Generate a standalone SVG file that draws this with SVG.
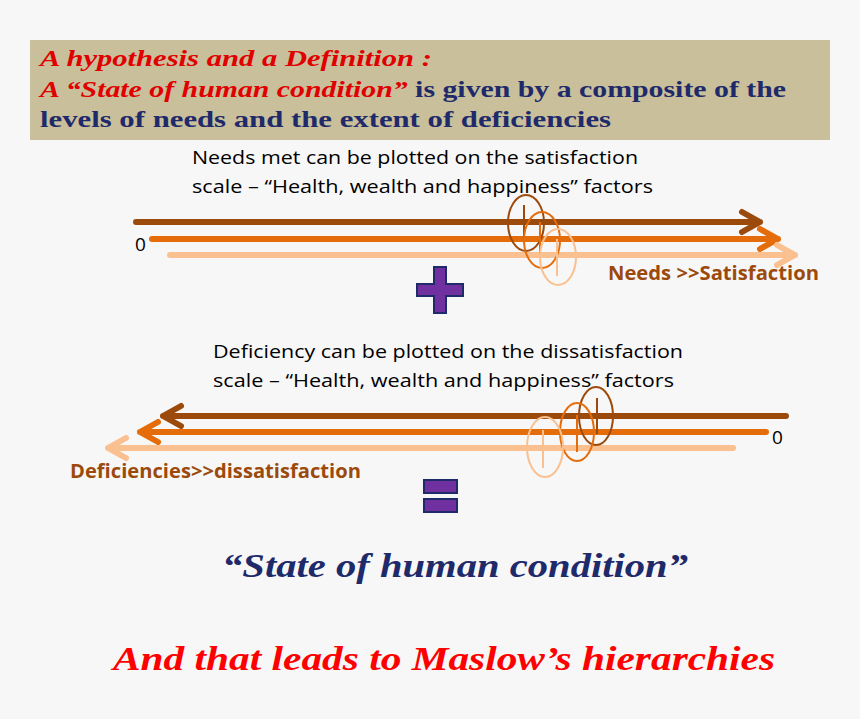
<svg xmlns="http://www.w3.org/2000/svg" width="860" height="719" viewBox="0 0 860 719">
<style>
.s{font-family:"Liberation Serif",serif;font-weight:bold}
.c{font-family:"Open Sans","Liberation Sans",sans-serif;font-size:19px;fill:#000}
.lb{font-family:"Open Sans","Liberation Sans",sans-serif;font-size:19px;font-weight:bold;fill:#9c4a0c}
.a{fill:none;stroke-width:6;stroke-linecap:round;stroke-linejoin:round}
.e{fill:none;stroke-width:2}
.d{stroke:#9c4a0c}.o{stroke:#e46c0a}.l{stroke:#fac090}
.sym{fill:#7030a0;stroke:#1f2a6b;stroke-width:2}
</style>
<rect width="860" height="719" fill="#f7f7f7"/>
<g id="header">
<rect x="30" y="40" width="800" height="100" fill="#c9bf9a"/>
<text class="s" x="40" y="66" font-size="24" fill="#e00000" font-style="italic" textLength="392" lengthAdjust="spacingAndGlyphs">A hypothesis and a Definition :</text>
<text class="s" x="40" y="97" font-size="24" textLength="746" lengthAdjust="spacingAndGlyphs"><tspan fill="#e00000" font-style="italic">A “State of human condition”</tspan><tspan fill="#1f2a6b"> is given by a composite of the</tspan></text>
<text class="s" x="40" y="127" font-size="24" fill="#1f2a6b" textLength="571" lengthAdjust="spacingAndGlyphs">levels of needs and the extent of deficiencies</text>
</g>
<g id="needs">
<text class="c" x="192" y="164" textLength="446" lengthAdjust="spacingAndGlyphs">Needs met can be plotted on the satisfaction</text>
<text class="c" x="192" y="193" textLength="461" lengthAdjust="spacingAndGlyphs">scale – “Health, wealth and happiness” factors</text>
<text class="c" x="135" y="251" font-size="20">0</text>
<text class="lb" x="608" y="280" textLength="211" lengthAdjust="spacingAndGlyphs">Needs &gt;&gt;Satisfaction</text>
</g>
<g id="deficiency">
<text class="c" x="213" y="358" textLength="470" lengthAdjust="spacingAndGlyphs">Deficiency can be plotted on the dissatisfaction</text>
<text class="c" x="213" y="387" textLength="461" lengthAdjust="spacingAndGlyphs">scale – “Health, wealth and happiness” factors</text>
<text class="c" x="772" y="444" font-size="20">0</text>
<text class="lb" x="70" y="478" textLength="291" lengthAdjust="spacingAndGlyphs">Deficiencies&gt;&gt;dissatisfaction</text>
</g>
<g id="connectors">
<path class="a d" d="M136 222H760M742 212L760 222L742 232"/>
<path class="a o" d="M152 239H778M760 229L778 239L760 249"/>
<path class="a l" d="M170 255H795M777 245L795 255L777 265"/>
<ellipse class="e d" cx="526" cy="223" rx="18" ry="28"/><line class="e d" x1="524" y1="205" x2="524" y2="240"/>
<ellipse class="e o" cx="542" cy="240" rx="18" ry="28"/><line class="e o" x1="540" y1="222" x2="540" y2="257"/>
<ellipse class="e l" cx="558" cy="257" rx="18" ry="28"/><line class="e l" x1="557" y1="239" x2="557" y2="276"/>
<path class="a d" d="M786 416H163M181 406L163 416L181 426"/>
<path class="a o" d="M766 432H140M158 422L140 432L158 442"/>
<path class="a l" d="M733 448H108M126 438L108 448L126 458"/>
<ellipse class="e d" cx="596" cy="416" rx="17" ry="29"/><line class="e d" x1="597" y1="398" x2="597" y2="434"/>
<ellipse class="e o" cx="577" cy="432" rx="17" ry="29"/><line class="e o" x1="577" y1="415" x2="577" y2="452"/>
<ellipse class="e l" cx="545" cy="447" rx="18" ry="30"/><line class="e l" x1="543" y1="430" x2="543" y2="468"/>
</g>
<g id="plus"><path class="sym" d="M434 267H446V284H463V296H446V313H434V296H417V284H434Z"/></g>
<g id="equals"><rect class="sym" x="424" y="480" width="33" height="13"/><rect class="sym" x="424" y="499" width="33" height="13"/></g>
<g id="result">
<text class="s" x="222" y="577" font-size="33" fill="#1f2a6b" font-style="italic" textLength="466" lengthAdjust="spacingAndGlyphs">“State of human condition”</text>
<text class="s" x="113" y="670" font-size="33" fill="#ff0000" font-style="italic" textLength="662" lengthAdjust="spacingAndGlyphs">And that leads to Maslow’s hierarchies</text>
</g>
</svg>
